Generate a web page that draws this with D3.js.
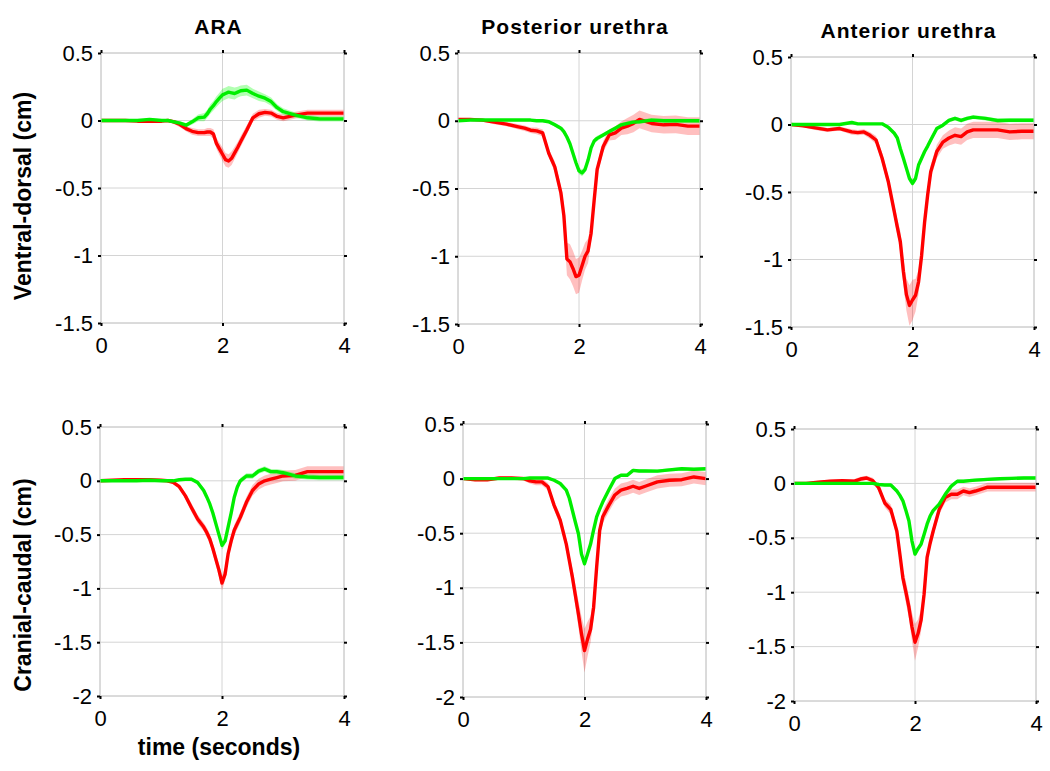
<!DOCTYPE html>
<html>
<head>
<meta charset="utf-8">
<script src="https://cdn.jsdelivr.net/npm/d3@7"></script>
<style>
  body { margin: 0; background: #fff; }
  svg { display: block; font-family: "Liberation Sans", Arial, sans-serif; }
</style>
</head>
<body>
<div id="chart"></div>
<script>
// time grid (seconds), shared by every series
const time = [0, 0.2, 0.4, 0.6, 0.8, 1.0,
  1.1, 1.2, 1.3, 1.4, 1.5, 1.6, 1.7, 1.75, 1.8, 1.85,
  1.9, 1.95, 2.0, 2.05, 2.1, 2.15, 2.2, 2.25, 2.3, 2.4,
  2.5, 2.6, 2.7, 2.8, 2.9, 3.0, 3.2, 3.4, 3.6, 3.8, 4.0];

const xTicks = [0, 2, 4];
const yTicksTop = [0.5, 0, -0.5, -1, -1.5];
const yTicksBottom = [0.5, 0, -0.5, -1, -1.5, -2];

const titles = ["ARA", "Posterior urethra", "Anterior urethra"];
const rowLabels = ["Ventral-dorsal (cm)", "Cranial-caudal (cm)"];
const xLabel = "time (seconds)";

// ventral-dorsal, ARA
const araVdRed = [0, 0, 0, -0.005, -0.005, -0.005,
  0, -0.01, -0.03, -0.06, -0.08, -0.09, -0.09, -0.085, -0.085, -0.1,
  -0.17, -0.21, -0.25, -0.29, -0.3, -0.28, -0.24, -0.2, -0.155, -0.07,
  0.02, 0.05, 0.06, 0.055, 0.03, 0.02, 0.04, 0.055, 0.055, 0.055, 0.055];
const araVdRedSd = [0.005, 0.005, 0.005, 0.008, 0.008, 0.01,
  0.01, 0.015, 0.02, 0.02, 0.025, 0.025, 0.025, 0.03, 0.03, 0.035,
  0.04, 0.045, 0.05, 0.05, 0.05, 0.05, 0.045, 0.04, 0.04, 0.035,
  0.03, 0.03, 0.025, 0.025, 0.025, 0.025, 0.025, 0.025, 0.025, 0.025, 0.025];
const araVdGreen = [0, 0, 0, 0, 0.008, 0,
  0, -0.01, -0.02, -0.035, -0.01, 0.02, 0.025, 0.05, 0.085, 0.11,
  0.14, 0.165, 0.19, 0.2, 0.21, 0.205, 0.2, 0.21, 0.22, 0.225,
  0.2, 0.18, 0.165, 0.14, 0.095, 0.065, 0.04, 0.02, 0.012, 0.012, 0.012];
const araVdGreenSd = [0.005, 0.005, 0.005, 0.005, 0.008, 0.01,
  0.01, 0.012, 0.015, 0.015, 0.02, 0.025, 0.03, 0.03, 0.035, 0.035,
  0.04, 0.04, 0.045, 0.045, 0.045, 0.045, 0.045, 0.04, 0.04, 0.04,
  0.035, 0.035, 0.03, 0.03, 0.025, 0.025, 0.02, 0.02, 0.02, 0.02, 0.02];

// ventral-dorsal, posterior urethra
const postVdRed = [0.01, 0.01, 0.005, -0.01, -0.025, -0.045,
  -0.055, -0.07, -0.075, -0.09, -0.24, -0.34, -0.53, -0.7, -1.02, -1.04,
  -1.09, -1.15, -1.14, -1.07, -1.0, -0.96, -0.83, -0.59, -0.36, -0.19,
  -0.105, -0.09, -0.055, -0.04, -0.02, 0.01, -0.02, -0.03, -0.027, -0.04, -0.04];
const postVdRedSd = [0.01, 0.01, 0.01, 0.015, 0.015, 0.02,
  0.02, 0.02, 0.025, 0.025, 0.03, 0.04, 0.05, 0.08, 0.12, 0.13,
  0.13, 0.13, 0.13, 0.11, 0.1, 0.09, 0.06, 0.05, 0.04, 0.04,
  0.04, 0.05, 0.05, 0.06, 0.065, 0.065, 0.065, 0.065, 0.065, 0.065, 0.065];
const postVdGreen = [0, 0.005, 0.005, 0.005, 0.005, 0.005,
  0.005, 0.005, 0, 0, -0.007, -0.03, -0.055, -0.08, -0.12, -0.17,
  -0.24, -0.31, -0.37, -0.385, -0.36, -0.29, -0.2, -0.15, -0.13, -0.105,
  -0.08, -0.055, -0.03, -0.02, -0.01, -0.007, 0.005, 0, 0, 0, 0];
const postVdGreenSd = [0.005, 0.005, 0.005, 0.005, 0.005, 0.005,
  0.005, 0.005, 0.008, 0.01, 0.012, 0.015, 0.015, 0.02, 0.02, 0.02,
  0.025, 0.025, 0.025, 0.025, 0.025, 0.02, 0.02, 0.02, 0.02, 0.015,
  0.015, 0.015, 0.015, 0.015, 0.015, 0.015, 0.015, 0.015, 0.015, 0.015, 0.015];

// ventral-dorsal, anterior urethra
const antVdRed = [0, -0.01, -0.025, -0.04, -0.03, -0.055,
  -0.06, -0.055, -0.08, -0.115, -0.25, -0.42, -0.645, -0.76, -0.87, -1.09,
  -1.26, -1.34, -1.3, -1.265, -1.165, -0.97, -0.72, -0.52, -0.35, -0.2,
  -0.13, -0.1, -0.08, -0.09, -0.055, -0.04, -0.04, -0.04, -0.055, -0.05, -0.05];
const antVdRedSd = [0.005, 0.01, 0.015, 0.015, 0.015, 0.02,
  0.02, 0.02, 0.025, 0.03, 0.04, 0.04, 0.05, 0.06, 0.08, 0.1,
  0.12, 0.15, 0.15, 0.12, 0.09, 0.07, 0.06, 0.05, 0.05, 0.05,
  0.05, 0.055, 0.06, 0.06, 0.06, 0.06, 0.06, 0.06, 0.06, 0.06, 0.06];
const antVdGreen = [0, 0, 0, 0, 0, 0.015,
  0.005, 0.005, 0.005, 0.005, 0.005, -0.02, -0.065, -0.1, -0.18, -0.25,
  -0.325, -0.4, -0.435, -0.4, -0.3, -0.25, -0.2, -0.16, -0.115, -0.03,
  -0.005, 0.03, 0.045, 0.03, 0.045, 0.055, 0.045, 0.03, 0.032, 0.032, 0.032];
const antVdGreenSd = [0.005, 0.005, 0.005, 0.005, 0.005, 0.005,
  0.005, 0.005, 0.005, 0.005, 0.008, 0.01, 0.012, 0.015, 0.015, 0.02,
  0.02, 0.025, 0.025, 0.025, 0.02, 0.02, 0.02, 0.02, 0.02, 0.015,
  0.015, 0.015, 0.015, 0.015, 0.015, 0.015, 0.015, 0.015, 0.015, 0.015, 0.015];

// cranial-caudal, ARA
const araCcRed = [0, 0.005, 0.01, 0.01, 0.01, 0.005,
  0, -0.015, -0.055, -0.14, -0.25, -0.355, -0.43, -0.48, -0.54, -0.63,
  -0.73, -0.83, -0.95, -0.87, -0.68, -0.56, -0.46, -0.4, -0.34, -0.2,
  -0.09, -0.03, 0, 0.015, 0.03, 0.045, 0.05, 0.085, 0.085, 0.085, 0.085];
const araCcRedSd = [0.005, 0.008, 0.01, 0.01, 0.01, 0.01,
  0.01, 0.015, 0.02, 0.03, 0.04, 0.04, 0.04, 0.045, 0.045, 0.05,
  0.055, 0.06, 0.07, 0.06, 0.055, 0.05, 0.05, 0.05, 0.05, 0.05,
  0.05, 0.05, 0.05, 0.05, 0.05, 0.05, 0.05, 0.05, 0.05, 0.05, 0.05];
const araCcGreen = [0, 0, 0, 0, 0.005, 0,
  0, 0, 0.01, 0.015, 0.015, -0.015, -0.09, -0.15, -0.215, -0.3,
  -0.4, -0.5, -0.6, -0.56, -0.43, -0.3, -0.155, -0.06, 0, 0.045,
  0.045, 0.09, 0.11, 0.085, 0.085, 0.075, 0.045, 0.035, 0.03, 0.03, 0.03];
const araCcGreenSd = [0.005, 0.005, 0.005, 0.005, 0.005, 0.005,
  0.005, 0.008, 0.01, 0.012, 0.015, 0.02, 0.025, 0.025, 0.03, 0.03,
  0.03, 0.035, 0.04, 0.035, 0.03, 0.03, 0.025, 0.025, 0.025, 0.025,
  0.025, 0.025, 0.025, 0.025, 0.025, 0.025, 0.025, 0.025, 0.025, 0.025, 0.025];

// cranial-caudal, posterior urethra
const postCcRed = [0, -0.01, -0.01, 0.005, 0.005, 0,
  -0.02, -0.03, -0.03, -0.075, -0.245, -0.38, -0.6, -0.75, -0.9, -1.07,
  -1.24, -1.42, -1.575, -1.47, -1.38, -1.18, -0.81, -0.475, -0.35, -0.245,
  -0.15, -0.105, -0.09, -0.07, -0.09, -0.07, -0.03, -0.015, -0.01, 0.015, 0];
const postCcRedSd = [0.01, 0.015, 0.015, 0.015, 0.015, 0.02,
  0.025, 0.03, 0.03, 0.035, 0.04, 0.05, 0.05, 0.06, 0.08, 0.1,
  0.12, 0.16, 0.2, 0.16, 0.12, 0.1, 0.07, 0.06, 0.06, 0.06,
  0.06, 0.06, 0.06, 0.06, 0.06, 0.06, 0.06, 0.06, 0.06, 0.06, 0.06];
const postCcGreen = [0, 0, 0, 0, 0, 0,
  0.005, 0.005, 0.005, 0.005, -0.015, -0.045, -0.105, -0.18, -0.29, -0.4,
  -0.505, -0.69, -0.78, -0.69, -0.6, -0.47, -0.35, -0.28, -0.215, -0.105,
  0, 0.03, 0.03, 0.075, 0.07, 0.07, 0.068, 0.08, 0.09, 0.085, 0.09];
const postCcGreenSd = [0.005, 0.005, 0.005, 0.005, 0.005, 0.005,
  0.008, 0.01, 0.01, 0.01, 0.012, 0.015, 0.015, 0.02, 0.02, 0.02,
  0.02, 0.02, 0.025, 0.02, 0.02, 0.02, 0.02, 0.02, 0.02, 0.015,
  0.015, 0.015, 0.015, 0.015, 0.015, 0.015, 0.015, 0.015, 0.015, 0.015, 0.015];

// cranial-caudal, anterior urethra
const antCcRed = [0, 0, 0.01, 0.02, 0.025, 0.02,
  0.04, 0.05, 0.027, -0.04, -0.18, -0.24, -0.44, -0.65, -0.87, -1.0,
  -1.14, -1.32, -1.46, -1.38, -1.26, -1.02, -0.68, -0.55, -0.44, -0.24,
  -0.13, -0.1, -0.1, -0.07, -0.085, -0.07, -0.035, -0.035, -0.035, -0.035, -0.035];
const antCcRedSd = [0.005, 0.01, 0.015, 0.015, 0.015, 0.02,
  0.02, 0.02, 0.025, 0.03, 0.04, 0.045, 0.05, 0.06, 0.08, 0.1,
  0.1, 0.13, 0.17, 0.13, 0.1, 0.08, 0.06, 0.05, 0.05, 0.045,
  0.045, 0.045, 0.045, 0.04, 0.04, 0.04, 0.04, 0.04, 0.04, 0.04, 0.04];
const antCcGreen = [0, 0, 0, 0, 0, 0,
  0, 0, 0, -0.01, -0.015, -0.015, -0.07, -0.11, -0.16, -0.25,
  -0.345, -0.53, -0.65, -0.6, -0.56, -0.47, -0.375, -0.3, -0.25, -0.19,
  -0.1, -0.025, 0.02, 0.02, 0.025, 0.03, 0.037, 0.043, 0.046, 0.05, 0.05];
const antCcGreenSd = postCcGreenSd;

const width = 1050, height = 771;
const font = '"Liberation Sans", Arial, sans-serif';

const panels = [
  { title: titles[0], box: [101, 53, 344, 323], ticks: yTicksTop, red: araVdRed, redSd: araVdRedSd, green: araVdGreen, greenSd: araVdGreenSd },
  { title: titles[1], box: [458, 53, 700, 324], ticks: yTicksTop, red: postVdRed, redSd: postVdRedSd, green: postVdGreen, greenSd: postVdGreenSd },
  { title: titles[2], box: [791, 57, 1034, 327], ticks: yTicksTop, red: antVdRed, redSd: antVdRedSd, green: antVdGreen, greenSd: antVdGreenSd },
  { box: [100, 427, 344, 696], ticks: yTicksBottom, red: araCcRed, redSd: araCcRedSd, green: araCcGreen, greenSd: araCcGreenSd },
  { box: [463, 424, 706, 697], ticks: yTicksBottom, red: postCcRed, redSd: postCcRedSd, green: postCcGreen, greenSd: postCcGreenSd },
  { box: [794, 429, 1036, 701], ticks: yTicksBottom, red: antCcRed, redSd: antCcRedSd, green: antCcGreen, greenSd: antCcGreenSd }
];

const svg = d3.select('#chart')
  .append('svg')
  .attr('width', width)
  .attr('height', height);

const fmt = d => String(d);

panels.forEach((p, k) => {
  let [x0, y0, x1, y1] = p.box;
  let w = x1 - x0, h = y1 - y0;

  let x = d3.scaleLinear().domain([0, 4]).range([0, w]);
  let y = d3.scaleLinear().domain([d3.min(p.ticks), d3.max(p.ticks)]).range([h, 0]);

  let g = svg.append('g').attr('transform', 'translate(' + x0 + ',' + y0 + ')');

  g.append('clipPath').attr('id', 'clip' + k)
    .append('rect').attr('width', w).attr('height', h);

  // grid
  g.selectAll('.gx').data(xTicks).enter().append('line')
    .attr('x1', d => x(d)).attr('x2', d => x(d))
    .attr('y1', 0).attr('y2', h)
    .attr('stroke', '#d4d4d4').attr('stroke-width', 1);
  g.selectAll('.gy').data(p.ticks).enter().append('line')
    .attr('x1', 0).attr('x2', w)
    .attr('y1', d => y(d)).attr('y2', d => y(d))
    .attr('stroke', '#d4d4d4').attr('stroke-width', 1);

  let plot = g.append('g').attr('clip-path', 'url(#clip' + k + ')');

  let band = (vals, sd) => d3.area()
    .x((d, i) => x(time[i]))
    .y0((d, i) => y(vals[i] - sd[i]))
    .y1((d, i) => y(vals[i] + sd[i]))(time);
  let line = vals => d3.line()
    .x((d, i) => x(time[i]))
    .y((d, i) => y(vals[i]))(time);

  plot.append('path').attr('d', band(p.red, p.redSd))
    .attr('fill', '#ff0000').attr('fill-opacity', 0.25);
  plot.append('path').attr('d', band(p.green, p.greenSd))
    .attr('fill', '#00ff00').attr('fill-opacity', 0.3);
  plot.append('path').attr('d', line(p.red))
    .attr('fill', 'none').attr('stroke', '#ff0000').attr('stroke-width', 3.4)
    .attr('stroke-linejoin', 'round');
  plot.append('path').attr('d', line(p.green))
    .attr('fill', 'none').attr('stroke', '#00ee00').attr('stroke-width', 3.4)
    .attr('stroke-linejoin', 'round');

  // axes box
  g.append('rect').attr('width', w).attr('height', h)
    .attr('fill', 'none').attr('stroke', '#cccccc').attr('stroke-width', 1);

  let styleAxis = a => {
    a.attr('font-size', 22).attr('font-family', font);
    a.select('.domain').remove();
    a.selectAll('.tick line').attr('stroke', '#000').attr('stroke-width', 2);
    a.selectAll('.tick text')
      .attr('fill', '#000')
      .style('font-family', font)
      .style('font-size', '22px');
  };

  // small black ticks sit just outside the light box, like the original
  g.append('g')
    .call(d3.axisLeft(y).tickValues(p.ticks).tickSize(3).tickPadding(5).tickFormat(fmt))
    .call(styleAxis);
  g.append('g').attr('transform', 'translate(' + w + ',0)')
    .call(d3.axisRight(y).tickValues(p.ticks).tickSize(3).tickFormat(''))
    .call(styleAxis);
  g.append('g').attr('transform', 'translate(0,' + h + ')')
    .call(d3.axisBottom(x).tickValues(xTicks).tickSize(3).tickPadding(11).tickFormat(fmt))
    .call(styleAxis);
  g.append('g')
    .call(d3.axisTop(x).tickValues(xTicks).tickSize(3).tickFormat(''))
    .call(styleAxis);

  if (p.title) {
    g.append('text')
      .attr('x', w / 2 - 4)
      .attr('y', -19)
      .attr('text-anchor', 'middle')
      .style('font-family', font)
      .style('font-size', '21px')
      .style('font-weight', 'bold')
      .style('letter-spacing', '1px')
      .text(p.title);
  }
});

// row labels
[[23, 196], [23, 585]].forEach((pos, i) => {
  svg.append('text')
    .attr('transform', 'translate(' + pos[0] + ',' + pos[1] + ') rotate(-90)')
    .attr('text-anchor', 'middle')
    .attr('dy', '0.35em')
    .style('font-family', font)
    .style('font-size', '23px')
    .style('font-weight', 'bold')
    .text(rowLabels[i]);
});

svg.append('text')
  .attr('x', 219)
  .attr('y', 755)
  .attr('text-anchor', 'middle')
  .style('font-family', font)
  .style('font-size', '23px')
  .style('font-weight', 'bold')
  .text(xLabel);
</script>
</body>
</html>
